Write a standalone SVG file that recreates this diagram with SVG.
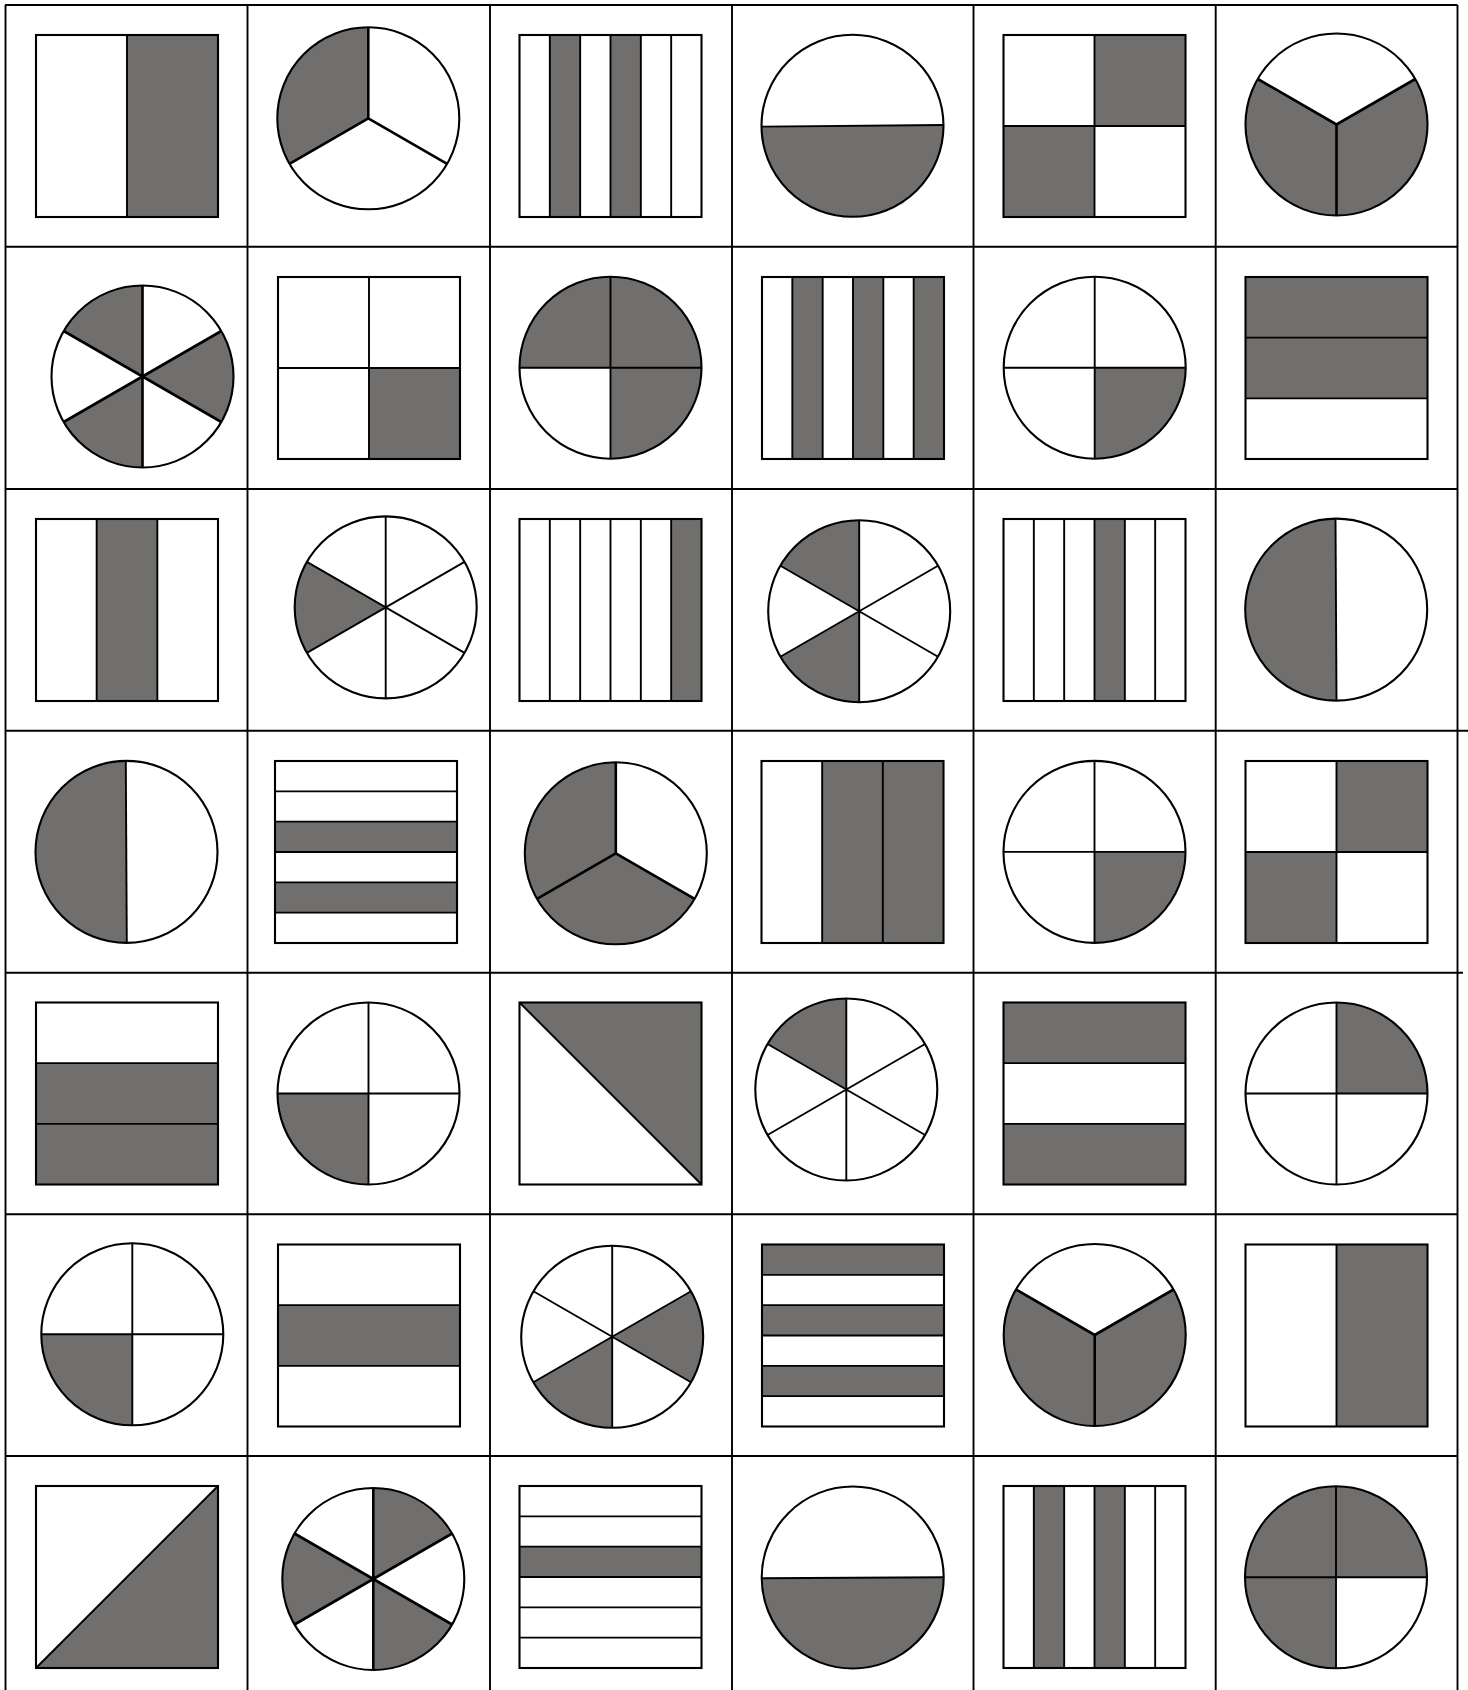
<svg xmlns="http://www.w3.org/2000/svg" width="1468" height="1690" viewBox="0 0 1468 1690">
<style>
.bg{fill:#fff;stroke:none}
.sh{fill:#706f6d;stroke:none}
.ln{fill:none;stroke:#000;stroke-width:1.9}
.tk{fill:none;stroke:#000;stroke-width:2.6}
.ol{fill:none;stroke:#000;stroke-width:2.1}
.grid{stroke:#000;stroke-width:1.9;fill:none}
</style>
<rect x="0" y="0" width="1468" height="1690" fill="#fff"/>
<g id="grid" class="grid">
<path d="M5.5 5V1690M247.5 5V1690M490 5V1690M732 5V1690M973.5 5V1690M1215.7 5V1690M1457.5 5V1690"/>
<path d="M5 5H1457.5M5 246.7H1457.5M5 489H1457.5M5 730.7H1468M5 972.7H1463M5 1214.3H1457.5M5 1456H1457.5"/>
</g>
<!-- Row 0 -->
<g id="r0c0"><rect class="bg" x="36" y="35" width="182" height="182"/><rect class="sh" x="127" y="35" width="91" height="182"/><path class="ln" d="M127 35V217"/><rect class="ol" x="36" y="35" width="182" height="182"/></g>
<g id="r0c1"><circle class="bg" cx="368.3" cy="118.3" r="91"/><path class="sh" d="M368.3 118.3L368.3 27.3A91 91 0 0 0 289.49 163.8Z"/><path class="tk" d="M368.3 118.3V27.3M368.3 118.3L289.49 163.8M368.3 118.3L447.11 163.8"/><circle class="ol" cx="368.3" cy="118.3" r="91"/></g>
<g id="r0c2"><rect class="bg" x="519.5" y="35" width="182" height="182"/><rect class="sh" x="549.83" y="35" width="30.33" height="182"/><rect class="sh" x="610.5" y="35" width="30.33" height="182"/><path class="ln" d="M549.83 35V217M580.17 35V217M610.5 35V217M640.83 35V217M671.17 35V217"/><rect class="ol" x="519.5" y="35" width="182" height="182"/></g>
<g id="r0c3"><circle class="bg" cx="852.5" cy="125.8" r="91"/><path class="sh" d="M761.5 126.6L943.5 125A91 91 0 0 1 761.5 126.6Z"/><path class="ln" d="M761.5 126.6L943.5 125"/><circle class="ol" cx="852.5" cy="125.8" r="91"/></g>
<g id="r0c4"><rect class="bg" x="1003.5" y="35" width="182" height="182"/><rect class="sh" x="1094.5" y="35" width="91" height="91"/><rect class="sh" x="1003.5" y="126" width="91" height="91"/><path class="ln" d="M1094.5 35V217M1003.5 126H1185.5"/><rect class="ol" x="1003.5" y="35" width="182" height="182"/></g>
<g id="r0c5"><circle class="bg" cx="1336.5" cy="124.5" r="91"/><path class="sh" d="M1336.5 124.5L1257.69 79A91 91 0 1 0 1415.31 79Z"/><path class="tk" d="M1336.5 124.5L1257.69 79M1336.5 124.5L1415.31 79M1336.5 124.5V215.5"/><circle class="ol" cx="1336.5" cy="124.5" r="91"/></g>
<!-- Row 1 -->
<g id="r1c0"><circle class="bg" cx="142.5" cy="376.5" r="91"/><path class="sh" d="M142.5 376.5L142.5 285.5A91 91 0 0 0 63.69 331ZM142.5 376.5L221.31 422A91 91 0 0 0 221.31 331ZM142.5 376.5L63.69 422A91 91 0 0 0 142.5 467.5Z"/><path class="tk" d="M142.5 285.5V467.5M63.69 331L221.31 422M63.69 422L221.31 331"/><circle class="ol" cx="142.5" cy="376.5" r="91"/></g>
<g id="r1c1"><rect class="bg" x="278" y="277" width="182" height="182"/><rect class="sh" x="369" y="368" width="91" height="91"/><path class="ln" d="M369 277V459M278 368H460"/><rect class="ol" x="278" y="277" width="182" height="182"/></g>
<g id="r1c2"><circle class="bg" cx="610.5" cy="367.7" r="91"/><path class="sh" d="M610.5 367.7L610.5 458.7A91 91 0 1 0 519.5 367.7Z"/><path class="ln" d="M610.5 276.7V458.7M519.5 367.7H701.5"/><circle class="ol" cx="610.5" cy="367.7" r="91"/></g>
<g id="r1c3"><rect class="bg" x="762" y="277" width="182" height="182"/><rect class="sh" x="792.33" y="277" width="30.33" height="182"/><rect class="sh" x="853" y="277" width="30.33" height="182"/><rect class="sh" x="913.67" y="277" width="30.33" height="182"/><path class="ln" d="M792.33 277V459M822.67 277V459M853 277V459M883.33 277V459M913.67 277V459"/><rect class="ol" x="762" y="277" width="182" height="182"/></g>
<g id="r1c4"><circle class="bg" cx="1094.7" cy="367.7" r="91"/><path class="sh" d="M1094.7 367.7L1094.7 458.7A91 91 0 0 0 1185.7 367.7Z"/><path class="ln" d="M1094.7 276.7V458.7M1003.7 367.7H1185.7"/><circle class="ol" cx="1094.7" cy="367.7" r="91"/></g>
<g id="r1c5"><rect class="bg" x="1245.5" y="277" width="182" height="182"/><rect class="sh" x="1245.5" y="277" width="182" height="121.33"/><path class="ln" d="M1245.5 337.67H1427.5M1245.5 398.33H1427.5"/><rect class="ol" x="1245.5" y="277" width="182" height="182"/></g>
<!-- Row 2 -->
<g id="r2c0"><rect class="bg" x="36" y="519" width="182" height="182"/><rect class="sh" x="96.67" y="519" width="60.67" height="182"/><path class="ln" d="M96.67 519V701M157.33 519V701"/><rect class="ol" x="36" y="519" width="182" height="182"/></g>
<g id="r2c1"><circle class="bg" cx="385.7" cy="607.4" r="91"/><path class="sh" d="M385.7 607.4L306.89 561.9A91 91 0 0 0 306.89 652.9Z"/><path class="ln" d="M385.7 516.4V698.4M306.89 561.9L464.51 652.9M306.89 652.9L464.51 561.9"/><circle class="ol" cx="385.7" cy="607.4" r="91"/></g>
<g id="r2c2"><rect class="bg" x="519.5" y="519" width="182" height="182"/><rect class="sh" x="671.17" y="519" width="30.33" height="182"/><path class="ln" d="M549.83 519V701M580.17 519V701M610.5 519V701M640.83 519V701M671.17 519V701"/><rect class="ol" x="519.5" y="519" width="182" height="182"/></g>
<g id="r2c3"><circle class="bg" cx="859.2" cy="611.2" r="91"/><path class="sh" d="M859.2 611.2L859.2 520.2A91 91 0 0 0 780.39 565.7ZM859.2 611.2L780.39 656.7A91 91 0 0 0 859.2 702.2Z"/><path class="ln" d="M859.2 520.2V702.2M780.39 565.7L938.01 656.7M780.39 656.7L938.01 565.7"/><circle class="ol" cx="859.2" cy="611.2" r="91"/></g>
<g id="r2c4"><rect class="bg" x="1003.5" y="519" width="182" height="182"/><rect class="sh" x="1094.5" y="519" width="30.33" height="182"/><path class="ln" d="M1033.83 519V701M1064.17 519V701M1094.5 519V701M1124.83 519V701M1155.17 519V701"/><rect class="ol" x="1003.5" y="519" width="182" height="182"/></g>
<g id="r2c5"><circle class="bg" cx="1336.2" cy="609.6" r="91"/><path class="sh" d="M1335.5 518.6A91 91 0 0 0 1336.5 700.6Z"/><path class="ln" d="M1335.5 518.6L1336.5 700.6"/><circle class="ol" cx="1336.2" cy="609.6" r="91"/></g>
<!-- Row 3 -->
<g id="r3c0"><circle class="bg" cx="126.5" cy="851.9" r="91"/><path class="sh" d="M125.8 760.9A91 91 0 0 0 126.8 942.9Z"/><path class="ln" d="M125.8 760.9L126.8 942.9"/><circle class="ol" cx="126.5" cy="851.9" r="91"/></g>
<g id="r3c1"><rect class="bg" x="275" y="761" width="182" height="182"/><rect class="sh" x="275" y="821.67" width="182" height="30.33"/><rect class="sh" x="275" y="882.33" width="182" height="30.33"/><path class="ln" d="M275 791.33H457M275 821.67H457M275 852H457M275 882.33H457M275 912.67H457"/><rect class="ol" x="275" y="761" width="182" height="182"/></g>
<g id="r3c2"><circle class="bg" cx="615.8" cy="853.3" r="91"/><path class="sh" d="M615.8 853.3L615.8 762.3A91 91 0 1 0 694.61 898.8Z"/><path class="tk" d="M615.8 853.3V762.3M615.8 853.3L536.99 898.8M615.8 853.3L694.61 898.8"/><circle class="ol" cx="615.8" cy="853.3" r="91"/></g>
<g id="r3c3"><rect class="bg" x="761.5" y="761" width="182" height="182"/><rect class="sh" x="822.17" y="761" width="121.33" height="182"/><path class="ln" d="M822.17 761V943M882.83 761V943"/><rect class="ol" x="761.5" y="761" width="182" height="182"/></g>
<g id="r3c4"><circle class="bg" cx="1094.5" cy="851.9" r="91"/><path class="sh" d="M1094.5 851.9L1094.5 942.9A91 91 0 0 0 1185.5 851.9Z"/><path class="ln" d="M1094.5 760.9V942.9M1003.5 851.9H1185.5"/><circle class="ol" cx="1094.5" cy="851.9" r="91"/></g>
<g id="r3c5"><rect class="bg" x="1245.5" y="761" width="182" height="182"/><rect class="sh" x="1336.5" y="761" width="91" height="91"/><rect class="sh" x="1245.5" y="852" width="91" height="91"/><path class="ln" d="M1336.5 761V943M1245.5 852H1427.5"/><rect class="ol" x="1245.5" y="761" width="182" height="182"/></g>
<!-- Row 4 -->
<g id="r4c0"><rect class="bg" x="36" y="1002.5" width="182" height="182"/><rect class="sh" x="36" y="1063.17" width="182" height="121.33"/><path class="ln" d="M36 1063.17H218M36 1123.83H218"/><rect class="ol" x="36" y="1002.5" width="182" height="182"/></g>
<g id="r4c1"><circle class="bg" cx="368.5" cy="1093.5" r="91"/><path class="sh" d="M368.5 1093.5L277.5 1093.5A91 91 0 0 0 368.5 1184.5Z"/><path class="ln" d="M368.5 1002.5V1184.5M277.5 1093.5H459.5"/><circle class="ol" cx="368.5" cy="1093.5" r="91"/></g>
<g id="r4c2"><rect class="bg" x="519.5" y="1002.5" width="182" height="182"/><path class="sh" d="M519.5 1002.5L701.5 1002.5L701.5 1184.5Z"/><path class="ln" d="M519.5 1002.5L701.5 1184.5"/><rect class="ol" x="519.5" y="1002.5" width="182" height="182"/></g>
<g id="r4c3"><circle class="bg" cx="846.3" cy="1089.5" r="91"/><path class="sh" d="M846.3 1089.5L846.3 998.5A91 91 0 0 0 767.49 1044Z"/><path class="ln" d="M846.3 998.5V1180.5M767.49 1044L925.11 1135M767.49 1135L925.11 1044"/><circle class="ol" cx="846.3" cy="1089.5" r="91"/></g>
<g id="r4c4"><rect class="bg" x="1003.5" y="1002.5" width="182" height="182"/><rect class="sh" x="1003.5" y="1002.5" width="182" height="60.67"/><rect class="sh" x="1003.5" y="1123.83" width="182" height="60.67"/><path class="ln" d="M1003.5 1063.17H1185.5M1003.5 1123.83H1185.5"/><rect class="ol" x="1003.5" y="1002.5" width="182" height="182"/></g>
<g id="r4c5"><circle class="bg" cx="1336.5" cy="1093.5" r="91"/><path class="sh" d="M1336.5 1093.5L1427.5 1093.5A91 91 0 0 0 1336.5 1002.5Z"/><path class="ln" d="M1336.5 1002.5V1184.5M1245.5 1093.5H1427.5"/><circle class="ol" cx="1336.5" cy="1093.5" r="91"/></g>
<!-- Row 5 -->
<g id="r5c0"><circle class="bg" cx="132.3" cy="1334.3" r="91"/><path class="sh" d="M132.3 1334.3L41.3 1334.3A91 91 0 0 0 132.3 1425.3Z"/><path class="ln" d="M132.3 1243.3V1425.3M41.3 1334.3H223.3"/><circle class="ol" cx="132.3" cy="1334.3" r="91"/></g>
<g id="r5c1"><rect class="bg" x="278" y="1244.5" width="182" height="182"/><rect class="sh" x="278" y="1305.17" width="182" height="60.67"/><path class="ln" d="M278 1305.17H460M278 1365.83H460"/><rect class="ol" x="278" y="1244.5" width="182" height="182"/></g>
<g id="r5c2"><circle class="bg" cx="612.2" cy="1336.8" r="91"/><path class="sh" d="M612.2 1336.8L691.01 1382.3A91 91 0 0 0 691.01 1291.3ZM612.2 1336.8L533.39 1382.3A91 91 0 0 0 612.2 1427.8Z"/><path class="ln" d="M612.2 1245.8V1427.8M533.39 1291.3L691.01 1382.3M533.39 1382.3L691.01 1291.3"/><circle class="ol" cx="612.2" cy="1336.8" r="91"/></g>
<g id="r5c3"><rect class="bg" x="762" y="1244.5" width="182" height="182"/><rect class="sh" x="762" y="1244.5" width="182" height="30.33"/><rect class="sh" x="762" y="1305.17" width="182" height="30.33"/><rect class="sh" x="762" y="1365.83" width="182" height="30.33"/><path class="ln" d="M762 1274.83H944M762 1305.17H944M762 1335.5H944M762 1365.83H944M762 1396.17H944"/><rect class="ol" x="762" y="1244.5" width="182" height="182"/></g>
<g id="r5c4"><circle class="bg" cx="1094.7" cy="1335" r="91"/><path class="sh" d="M1094.7 1335L1015.89 1289.5A91 91 0 1 0 1173.51 1289.5Z"/><path class="tk" d="M1094.7 1335L1015.89 1289.5M1094.7 1335L1173.51 1289.5M1094.7 1335V1426"/><circle class="ol" cx="1094.7" cy="1335" r="91"/></g>
<g id="r5c5"><rect class="bg" x="1245.5" y="1244.5" width="182" height="182"/><rect class="sh" x="1336.5" y="1244.5" width="91" height="182"/><path class="ln" d="M1336.5 1244.5V1426.5"/><rect class="ol" x="1245.5" y="1244.5" width="182" height="182"/></g>
<!-- Row 6 -->
<g id="r6c0"><rect class="bg" x="36" y="1486" width="182" height="182"/><path class="sh" d="M36 1668L218 1486L218 1668Z"/><path class="ln" d="M36 1668L218 1486"/><rect class="ol" x="36" y="1486" width="182" height="182"/></g>
<g id="r6c1"><circle class="bg" cx="373.3" cy="1579" r="91"/><path class="sh" d="M373.3 1579L452.11 1533.5A91 91 0 0 0 373.3 1488ZM373.3 1579L294.49 1533.5A91 91 0 0 0 294.49 1624.5ZM373.3 1579L373.3 1670A91 91 0 0 0 452.11 1624.5Z"/><path class="tk" d="M373.3 1488V1670M294.49 1533.5L452.11 1624.5M294.49 1624.5L452.11 1533.5"/><circle class="ol" cx="373.3" cy="1579" r="91"/></g>
<g id="r6c2"><rect class="bg" x="519.5" y="1486" width="182" height="182"/><rect class="sh" x="519.5" y="1546.67" width="182" height="30.33"/><path class="ln" d="M519.5 1516.33H701.5M519.5 1546.67H701.5M519.5 1577H701.5M519.5 1607.33H701.5M519.5 1637.67H701.5"/><rect class="ol" x="519.5" y="1486" width="182" height="182"/></g>
<g id="r6c3"><circle class="bg" cx="852.7" cy="1577.5" r="91"/><path class="sh" d="M761.7 1578.3L943.7 1577.3A91 91 0 0 1 761.7 1578.3Z"/><path class="ln" d="M761.7 1578.3L943.7 1577.3"/><circle class="ol" cx="852.7" cy="1577.5" r="91"/></g>
<g id="r6c4"><rect class="bg" x="1003.5" y="1486" width="182" height="182"/><rect class="sh" x="1033.83" y="1486" width="30.33" height="182"/><rect class="sh" x="1094.5" y="1486" width="30.33" height="182"/><path class="ln" d="M1033.83 1486V1668M1064.17 1486V1668M1094.5 1486V1668M1124.83 1486V1668M1155.17 1486V1668"/><rect class="ol" x="1003.5" y="1486" width="182" height="182"/></g>
<g id="r6c5"><circle class="bg" cx="1336" cy="1577.3" r="91"/><path class="sh" d="M1336 1577.3L1427 1577.3A91 91 0 1 0 1336 1668.3Z"/><path class="ln" d="M1336 1486.3V1668.3M1245 1577.3H1427"/><circle class="ol" cx="1336" cy="1577.3" r="91"/></g>
</svg>
